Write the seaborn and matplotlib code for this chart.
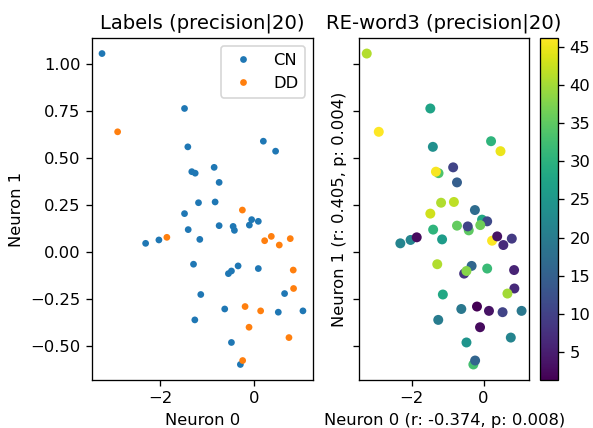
import numpy as np
import pandas as pd
import matplotlib
matplotlib.use("Agg")
import matplotlib.pyplot as plt
import seaborn as sns

# Projection of each sample onto the first two neurons
neuron0 = [-3.255, -2.92, -1.484, 0.208, 0.471, -1.413, -0.848, -1.255, -1.328,
           -0.741, -1.184, -0.827, -0.242, -1.484, -0.043, 0.1, -0.092, -0.741,
           -0.413, -0.441, -1.405, -2.034, -1.863, -2.319, -1.156, 0.236, 0.379,
           0.786, 0.55, -1.291, -0.334, -0.542, -0.477, 0.1, 0.85, 0.857, 0.664,
           -1.135, -0.621, -0.184, 0.15, 0.529, 1.058, -1.263, -0.099, 0.758,
           -0.477, -0.285, -0.236]
neuron1 = [1.054, 0.638, 0.762, 0.588, 0.535, 0.558, 0.449, 0.418, 0.426,
           0.369, 0.261, 0.265, 0.222, 0.203, 0.171, 0.162, 0.142, 0.139,
           0.114, 0.135, 0.118, 0.063, 0.077, 0.045, 0.066, 0.059, 0.082,
           0.070, 0.036, -0.066, -0.075, -0.116, -0.102, -0.089, -0.097, -0.195, -0.222,
           -0.227, -0.304, -0.291, -0.314, -0.321, -0.314, -0.362, -0.401, -0.456,
           -0.482, -0.599, -0.578]
labels = ["CN", "DD", "CN", "CN", "CN", "CN", "CN", "CN", "CN",
          "CN", "CN", "CN", "DD", "CN", "CN", "CN", "CN", "CN",
          "CN", "CN", "CN", "CN", "DD", "CN", "CN", "DD", "DD",
          "DD", "DD", "CN", "CN", "CN", "CN", "CN", "DD", "DD", "CN",
          "CN", "CN", "DD", "DD", "CN", "CN", "CN", "DD", "DD",
          "CN", "CN", "DD"]
re_word3 = [41.0, 46.2, 27.3, 30.5, 44.8, 23.7, 10.3, 33.6, 45.8,
            14.8, 40.8, 41.7, 17.0, 43.0, 28.2, 11.2, 36.3, 35.4,
            35.0, 10.3, 30.5, 21.5, 2.6, 21.5, 26.0, 46.0, 3.5,
            9.0, 6.7, 40.8, 16.0, 8.0, 38.0, 31.8, 5.8, 6.7, 40.0,
            28.2, 19.3, 1.3, 3.5, 10.3, 19.3, 20.0, 2.6, 21.5,
            24.6, 32.7, 15.7]

class_names = ["CN", "DD"]
class_colors = ["#1f77b4", "#ff7f0e"]

df = pd.DataFrame({"n0": neuron0, "n1": neuron1, "label": labels, "score": re_word3})

dpi = 118
fig = plt.figure(figsize=(593 / dpi, 428 / dpi), dpi=dpi)
ax_l = fig.add_axes([0.1551, 0.1121, 0.3727, 0.7991])
ax_r = fig.add_axes([0.6054, 0.1121, 0.2872, 0.7991], sharey=ax_l)
cax = fig.add_axes([0.9106, 0.1121, 0.0304, 0.7991])

# Left: samples coloured by class
sns.scatterplot(data=df, x="n0", y="n1", hue="label", hue_order=class_names,
                palette=class_colors, s=17, linewidth=0, ax=ax_l)
sns.move_legend(ax_l, "upper right", title=None)
ax_l.set_title("Labels (precision|20)")
ax_l.set_xlabel("Neuron 0")
ax_l.set_ylabel("Neuron 1")

# Right: samples coloured by the RE-word3 score
vmin, vmax = min(re_word3), max(re_word3)
sns.scatterplot(data=df, x="n0", y="n1", hue="score", palette="viridis",
                hue_norm=(vmin, vmax), s=37, linewidth=0, legend=False, ax=ax_r)
ax_r.set_title("RE-word3 (precision|20)")
ax_r.set_xlabel("Neuron 0 (r: -0.374, p: 0.008)")
ax_r.set_ylabel("Neuron 1 (r: 0.405, p: 0.004)")
ax_r.tick_params(labelleft=False)

sm = plt.cm.ScalarMappable(cmap="viridis", norm=plt.Normalize(vmin, vmax))
fig.colorbar(sm, cax=cax)

fig.savefig("out.png", dpi=dpi)
